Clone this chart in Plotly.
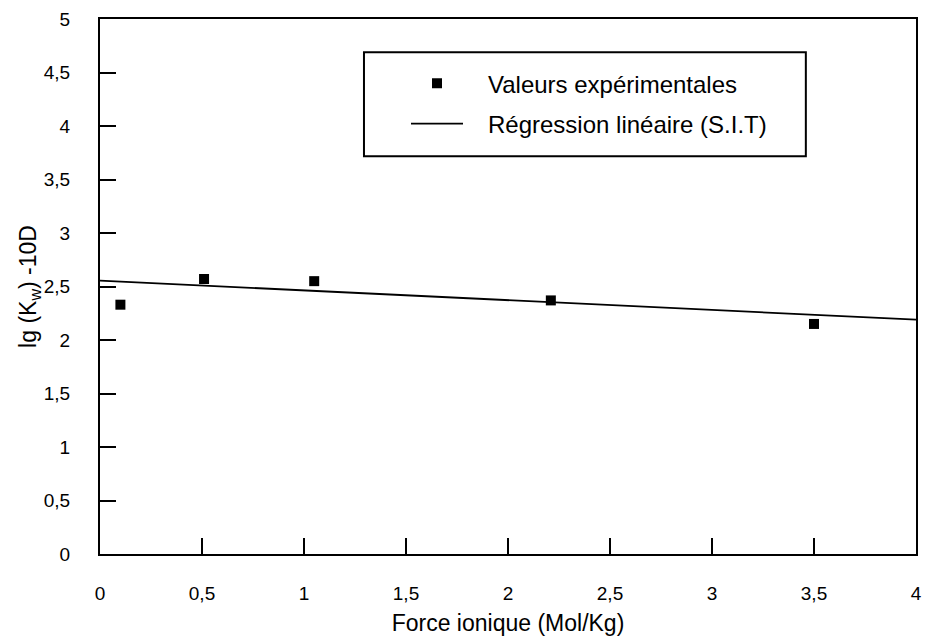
import plotly.graph_objects as go

# Data
force_ionique = [0.1, 0.51, 1.05, 2.21, 3.5]
lgK_exp = [2.33, 2.57, 2.55, 2.37, 2.15]
reg_x = [0.0, 4.0]
reg_y = [2.555, 2.19]

x_ticks = [0, 0.5, 1, 1.5, 2, 2.5, 3, 3.5, 4]
y_ticks = [0, 0.5, 1, 1.5, 2, 2.5, 3, 3.5, 4, 4.5, 5]

FONT = "Liberation Sans, Arial, sans-serif"
PAD = "\u00a0\u00a0\u00a0"

fig = go.Figure()
fig.add_trace(go.Scatter(
    x=force_ionique, y=lgK_exp, mode="markers",
    name=PAD + "Valeurs expérimentales", legendgroup="a",
    marker=dict(symbol="square", size=10, color="black"),
))
fig.add_trace(go.Scatter(
    x=reg_x, y=reg_y, mode="lines",
    name=PAD + "Régression linéaire (S.I.T)", legendgroup="b",
    line=dict(color="black", width=1.8),
))

axis_common = dict(
    showline=True, linecolor="black", linewidth=2, mirror=True,
    ticks="inside", ticklen=16, tickwidth=2, tickcolor="black",
    showgrid=False, zeroline=False, automargin=False,
    tickfont=dict(family=FONT, size=19, color="black"),
)

fig.update_layout(
    width=927, height=644,
    margin=dict(l=100, r=11, t=19, b=90, autoexpand=False),
    paper_bgcolor="white", plot_bgcolor="white",
    separators=", ",
    font=dict(family=FONT, color="black"),
    showlegend=True,
    legend=dict(
        x=0.375, y=0.921, xanchor="left", yanchor="top",
        bgcolor="rgba(0,0,0,0)", borderwidth=0,
        font=dict(family=FONT, size=24, color="black"),
        itemwidth=52, tracegroupgap=6,
    ),
    xaxis=dict(
        range=[0, 4], tickvals=x_ticks,
        title=dict(text="Force ionique (Mol/Kg)", font=dict(family=FONT, size=23), standoff=12),
        ticklabelstandoff=21,
        **axis_common,
    ),
    yaxis=dict(
        range=[0, 5], tickvals=y_ticks,
        title=dict(text="lg (K<sub>w</sub>) -10D", font=dict(family=FONT, size=23), standoff=0),
        ticklabelstandoff=24,
        **axis_common,
    ),
    shapes=[dict(
        type="rect", xref="paper", yref="paper",
        x0=0.3235, x1=0.865, y0=0.7435, y1=0.9378,
        line=dict(color="black", width=2), fillcolor="rgba(0,0,0,0)",
    )],
)

fig.write_html(
    "out.html",
    config={"displayModeBar": False},
    post_script="document.body.style.margin='0';document.body.style.overflow='hidden';",
)
